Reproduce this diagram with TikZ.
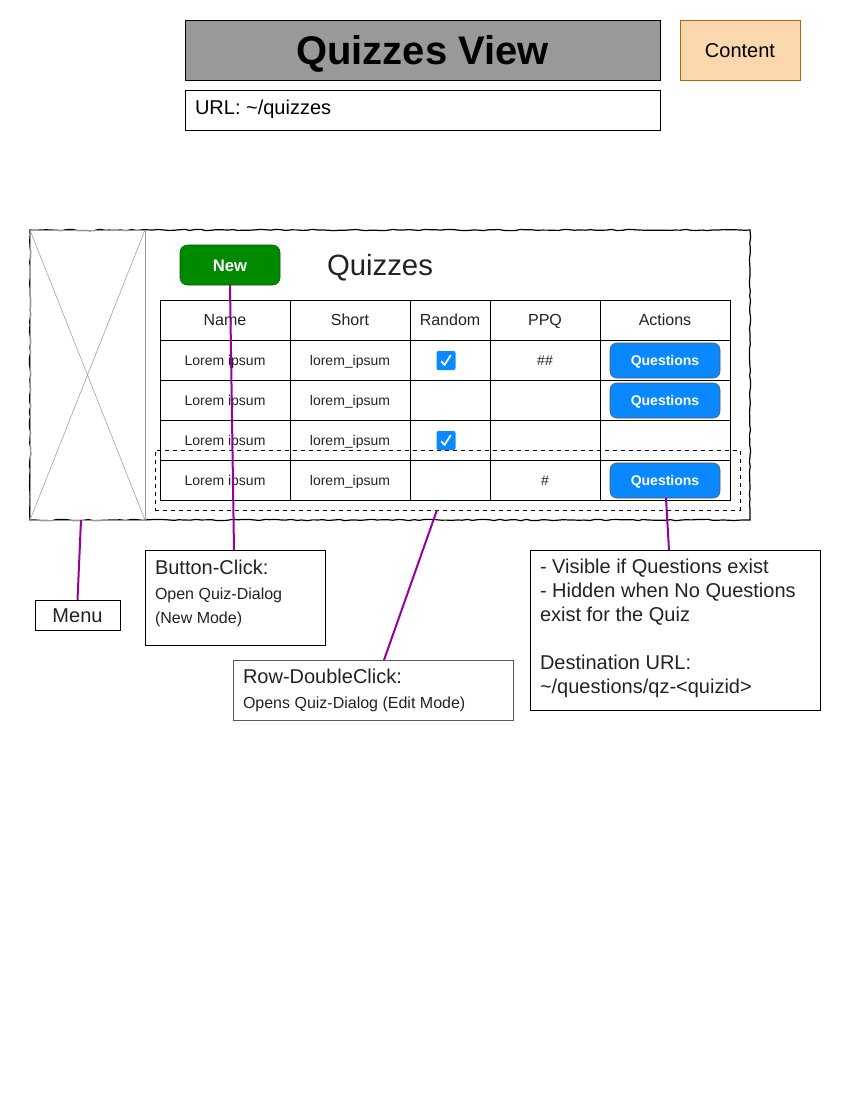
\documentclass[tikz,border=0pt]{standalone}
\usepackage{fontspec}
\setmainfont{Liberation Sans}
\usetikzlibrary{decorations.pathmorphing}
\definecolor{purp}{HTML}{990099}
\definecolor{titlegray}{HTML}{999999}
\definecolor{contentfill}{HTML}{FAD7AC}
\definecolor{contentdraw}{HTML}{B46504}
\definecolor{newgreen}{HTML}{008A00}
\definecolor{newgreendark}{HTML}{005700}
\definecolor{qblue}{HTML}{0A88FF}
\definecolor{imggray}{HTML}{999999}
\definecolor{txtgray}{HTML}{222222}
\tikzset{
  box/.style={draw, inner sep=0pt, outer sep=0pt},
  ctr/.style={text height=#1, text depth=0pt},
  celltxt/.style={ctr=7.5pt, text=txtgray, font=\fontsize{10.5}{12}\selectfont},
  headtxt/.style={ctr=8.6pt, text=txtgray, font=\fontsize{12}{14}\selectfont},
  qbtn/.style={ctr=7.5pt, draw=gray!70!black, fill=qblue, rounded corners=5pt, minimum width=82.5pt, minimum height=26.25pt, text=white, font=\bfseries\fontsize{10.5}{12}\selectfont},
  chk/.style={fill=qblue, rounded corners=1.5pt, minimum width=14.25pt, minimum height=14.25pt},
  conn/.style={purp, line width=1.5pt},
  notetxt/.style={anchor=north west, align=left, inner sep=0pt}
}
\begin{document}
\begin{tikzpicture}[x=0.75pt,y=-0.75pt, every node/.style={inner sep=0pt, outer sep=0pt}]
\useasboundingbox (0,0) rectangle (850,1100);

% header
\node[box, ctr=21.5pt, fill=titlegray, minimum width=356.25pt, minimum height=45pt, font=\bfseries\fontsize{30}{36}\selectfont] (title) at (422.5,50) {Quizzes View};
\node[box, ctr=10.75pt, draw=contentdraw, fill=contentfill, minimum width=90pt, minimum height=45pt, font=\fontsize{15}{18}\selectfont] (content) at (740,50) {Content};
\node[box, minimum width=356.25pt, minimum height=30pt] (url) at (422.5,110) {};
\node[ctr=10.75pt, anchor=west, font=\fontsize{15}{18}\selectfont] (urltxt) at ([shift={(10,-2.5)}]url.west) {URL: \textasciitilde/quizzes};

% frame
\pgfmathsetseed{7}
\draw[decorate, decoration={random steps, segment length=4pt, amplitude=0.5pt}, line width=0.9pt] (30,230) rectangle (750,520);
\node[box, draw=imggray, minimum width=86.25pt, minimum height=217.5pt] (img) at (87.5,375) {};
\draw[imggray] (img.north west) -- (img.south east) (img.north east) -- (img.south west);

% new button & title
\node[box, ctr=9pt, draw=newgreendark, fill=newgreen, rounded corners=5.5pt, minimum width=75pt, minimum height=30pt, text=white, font=\bfseries\fontsize{12.5}{14}\selectfont] (new) at (230,265) {New};
\node[ctr=15.75pt, font=\fontsize{22}{26}\selectfont, text=txtgray] (qtitle) at (380,265) {Quizzes};

% table
\node[box, minimum width=427.5pt, minimum height=150pt] (table) at (445,400) {};
\foreach \y in {340,380,420,460} \draw (160,\y) -- (730,\y);
\foreach \x in {290,410,490,600} \draw (\x,300) -- (\x,500);
\node[headtxt] (hname) at (225,320) {Name};
\node[headtxt] (hshort) at (350,320) {Short};
\node[headtxt] (hrand) at (450,320) {Random};
\node[headtxt] (hppq) at (545,320) {PPQ};
\node[headtxt] (hact) at (665,320) {Actions};
\foreach \r/\y in {1/360,2/400,3/440,4/480} {
  \node[celltxt] (name\r) at (225,\y) {Lorem ipsum};
  \node[celltxt] (short\r) at (350,\y) {lorem\_ipsum};
}
\node[celltxt] (ppq1) at (545,360) {\#\#};
\node[celltxt] (ppq4) at (545,480) {\#};

% checkboxes
\node[chk] (cb1) at (446,360.5) {};
\node[chk] (cb3) at (446,440.5) {};
\foreach \c in {cb1,cb3}
  \draw[white, line width=1.3pt, line cap=round, line join=round] ([shift={(-4.5,1)}]\c.center) -- ([shift={(-1.5,4.5)}]\c.center) -- ([shift={(4.5,-5)}]\c.center);

% dashed row selection
\node[box, dashed, minimum width=438.75pt, minimum height=45pt] (row) at (447.5,480) {};

% question buttons
\node[qbtn] (q1) at (665,360.5) {Questions};
\node[qbtn] (q2) at (665,400.5) {Questions};
\node[qbtn] (q4) at (665,480.5) {Questions};

% notes
\node[box, ctr=10.75pt, minimum width=63.75pt, minimum height=22.5pt, font=\fontsize{15}{18}\selectfont, text=txtgray] (menu) at (77.5,615) {Menu};

\node[box, minimum width=135pt, minimum height=71.25pt] (bc) at (235,597.5) {};
\node[notetxt, text=txtgray, font=\fontsize{12}{18.5}\selectfont] (bctxt) at ([shift={(10,10)}]bc.north west) {{\fontsize{15}{18.5}\selectfont Button-Click:}\\Open Quiz-Dialog\\(New Mode)};

\node[box, draw=gray!70!black, minimum width=210pt, minimum height=45pt] (rd) at (373,690) {};
\node[notetxt, text=txtgray, font=\fontsize{12}{19}\selectfont] (rdtxt) at ([shift={(10,9)}]rd.north west) {{\fontsize{15}{19}\selectfont Row-DoubleClick:}\\Opens Quiz-Dialog (Edit Mode)};

\node[box, minimum width=217.5pt, minimum height=120pt] (qn) at (675,630) {};
\node[notetxt, text=txtgray, font=\fontsize{15}{18}\selectfont] (qntxt) at ([shift={(10,9)}]qn.north west) {- Visible if Questions exist\\- Hidden when No Questions\\exist for the Quiz\\[18pt]Destination URL:\\\textasciitilde/questions/qz-<quizid>};

% connectors
\coordinate (mstart) at (81,520);
\draw[conn] (mstart) -- (menu.north);
\draw[conn] (new.south) -- ([shift={(-1,0)}]bc.north);
\draw[conn] ([shift={(-10.5,0)}]row.south) -- ([shift={(11,0)}]rd.north);
\draw[conn] ([shift={(1,0)}]q4.south) -- ([shift={(-6,0)}]qn.north);
\end{tikzpicture}
\end{document}
